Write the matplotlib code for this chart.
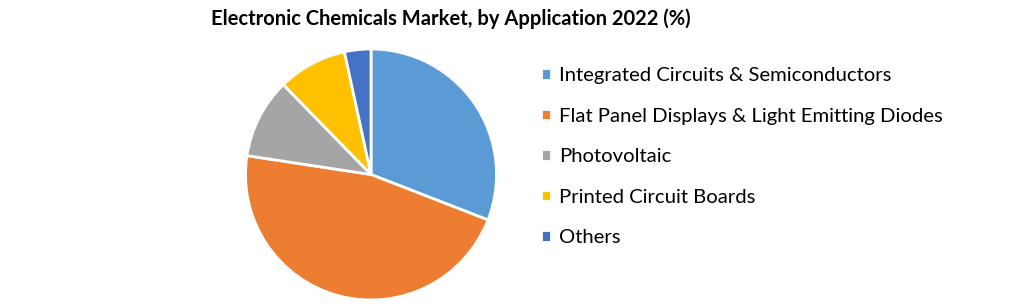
import matplotlib
matplotlib.use("Agg")
import matplotlib.pyplot as plt

# Data ---------------------------------------------------------
categories = [
    "Integrated Circuits & Semiconductors",
    "Flat Panel Displays & Light Emitting Diodes",
    "Photovoltaic",
    "Printed Circuit Boards",
    "Others",
]
shares = [30.9, 46.5, 10.3, 8.9, 3.4]
colors = ["#5B9BD5", "#ED7D31", "#A5A5A5", "#FFC000", "#4472C4"]

title = "Electronic Chemicals Market, by Application 2022 (%)"

# Styles -------------------------------------------------------
W, H = 1021, 304
font = "Lato"

fig = plt.figure(figsize=(W / 100, H / 100), dpi=100)
fig.patch.set_facecolor("white")

# pie axes: centre (371, 174.5) px, radius 125.5 px
cx, cy, r = 371, 174.5, 125.5
ax = fig.add_axes([(cx - r) / W, (H - cy - r) / H, 2 * r / W, 2 * r / H])
wedges, _ = ax.pie(shares, colors=colors, startangle=90, counterclock=False,
                   wedgeprops=dict(edgecolor="white", linewidth=2))
ax.set_xlim(-1, 1)
ax.set_ylim(-1, 1)
ax.set_aspect("equal")
ax.axis("off")

fig.text(451 / W, 1 - 19 / H, title, ha="center", va="center",
         fontsize=14.5, fontweight="bold", family=font)

leg = fig.legend(wedges, categories, loc="upper left",
                 bbox_to_anchor=(533 / W, 1 - 59 / H), frameon=False,
                 prop=dict(family=font, size=14.6), handlelength=0.5,
                 handleheight=0.5, handletextpad=0.4, labelspacing=1.16,
                 borderaxespad=0)

fig.savefig("out.png", dpi=100)
